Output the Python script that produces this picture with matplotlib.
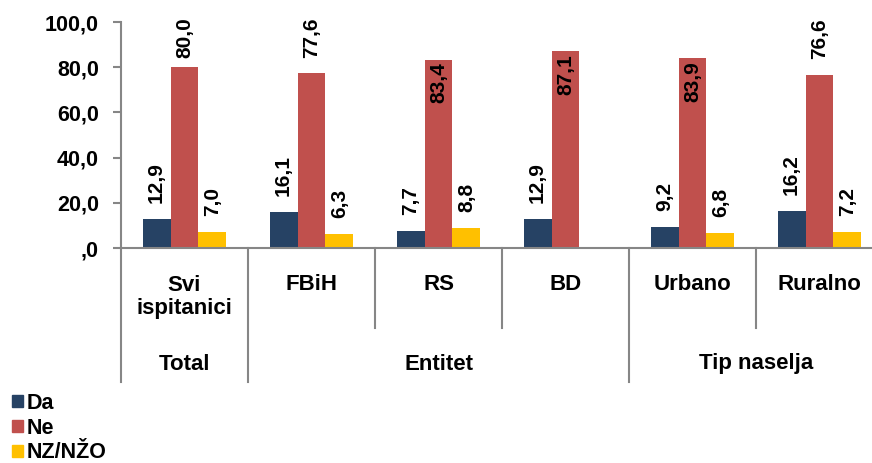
import matplotlib.pyplot as plt
from matplotlib.patches import Patch
from matplotlib.lines import Line2D
from matplotlib.transforms import blended_transform_factory

plt.rcParams['font.family'] = ['Liberation Sans', 'DejaVu Sans']
plt.rcParams['font.weight'] = 'bold'

categories = ["Svi\nispitanici", "FBiH", "RS", "BD", "Urbano", "Ruralno"]
groups = ["Total", "Entitet", "Tip naselja"]
group_span = [(0, 0), (1, 3), (4, 5)]
series = ["Da", "Ne", "NZ/NŽO"]
da = [12.9, 16.1, 7.7, 12.9, 9.2, 16.2]
ne = [80.0, 77.6, 83.4, 87.1, 83.9, 76.6]
nz = [7.0, 6.3, 8.8, None, 6.8, 7.2]
yticks = [0, 20, 40, 60, 80, 100]
ytick_labels = [",0", "20,0", "40,0", "60,0", "80,0", "100,0"]

colors = ["#264264", "#C0504D", "#FFC000"]
grey = "#868686"
W, H = 872, 463

fig = plt.figure(figsize=(W / 100, H / 100), dpi=100)
ax = fig.add_axes([121 / W, 1 - 248 / H, 762 / W, 226 / H])

bw = 0.22
px = 100 / 226  # data units per pixel
for k, (vals, col) in enumerate(zip([da, ne, nz], colors)):
    off = (k - 1) * bw
    for i, v in enumerate(vals):
        if v is None:
            continue
        ax.bar(i + off, v, bw, color=col, linewidth=0)
        lab = f"{v:.1f}".replace(".", ",")
        if v > 82:
            ax.text(i + off, v - 3 * px, lab, rotation=90, ha="center", va="top",
                    fontsize=15, fontweight="bold")
        else:
            y0 = min(v + 16 * px, 100 + 4 * px - 40 * px)
            ax.text(i + off, y0, lab, rotation=90, ha="center", va="bottom",
                    fontsize=15, fontweight="bold")

ax.set_xlim(-0.5, 5.5)
ax.set_ylim(0, 100)
ax.set_yticks(yticks)
ax.set_yticklabels(ytick_labels, fontsize=15.5, fontweight="bold")
ax.set_xticks([])
ax.tick_params(axis="y", length=6, width=1.5, color=grey, pad=10)
for s in ["top", "right"]:
    ax.spines[s].set_visible(False)
for s in ["left", "bottom"]:
    ax.spines[s].set_color(grey)
    ax.spines[s].set_linewidth(1.5)

tr = blended_transform_factory(ax.transData, fig.transFigure)
fy = lambda p: 1 - p / H

# category separators
for xb in [-0.5, 0.5, 3.5, 5.5]:
    ax.add_line(Line2D([xb, xb], [fy(248), fy(382)], transform=tr, color=grey,
                       lw=1.5, clip_on=False))
for xb in [1.5, 2.5, 4.5]:
    ax.add_line(Line2D([xb, xb], [fy(248), fy(328)], transform=tr, color=grey,
                       lw=1.5, clip_on=False))

for i, c in enumerate(categories):
    ax.text(i, fy(284 if "\n" not in c else 297), c, transform=tr, ha="center",
            va="center", fontsize=16, fontweight="bold", linespacing=1.12)
for g, (a, b) in zip(groups, group_span):
    ax.text((a + b) / 2, fy(364), g, transform=tr, ha="center", va="center",
            fontsize=16, fontweight="bold")

handles = [Patch(color=c) for c in colors]
fig.legend(handles, series, loc="upper left", bbox_to_anchor=(12 / W, fy(393)),
           frameon=False, handlelength=0.5, handleheight=0.5,
           handletextpad=0.2, labelspacing=0.17, borderpad=0.0, borderaxespad=0.0,
           prop={"weight": "bold", "size": 15.5})

fig.savefig("out.png", dpi=100)
